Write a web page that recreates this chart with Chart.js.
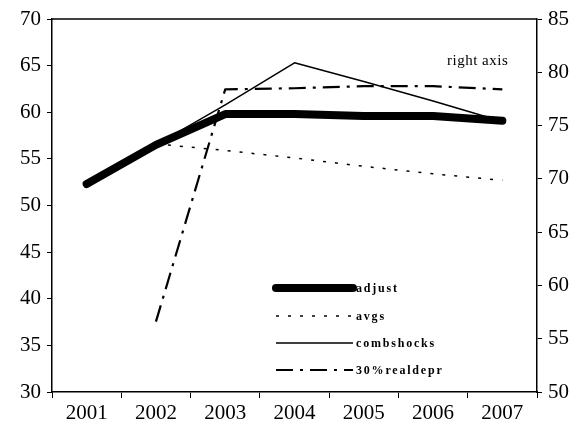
<!DOCTYPE html>
<html><head><meta charset="utf-8">
<script src="https://cdn.jsdelivr.net/npm/chart.js@4"></script>
<style>html,body{margin:0;padding:0;background:#fff}#wrap{width:582px;height:433px}</style>
</head><body><div id="wrap"><canvas id="c" width="582" height="433"></canvas></div>
<script>
const years = ['2001','2002','2003','2004','2005','2006','2007'];
const adjust = [52.3, 56.5, 59.8, 59.8, 59.6, 59.6, 59.1];
const avgs = [null, 56.6, 55.9, 55.1, 54.2, 53.4, 52.7];
const combshocks = [52.3, 56.5, 60.8, 65.3, 63.3, 61.2, 59.0];
const realdepr = [null, 56.6, 78.4, 78.5, 78.7, 78.7, 78.4];
const seriesNames = ['adjust', 'avgs', 'combshocks', '30%realdepr'];
const leftTicks = [30, 35, 40, 45, 50, 55, 60, 65, 70];
const rightTicks = [50, 55, 60, 65, 70, 75, 80, 85];
const rightAxisNote = 'right axis';

const FONT = '"Liberation Serif", "Times New Roman", serif';

const styles = [
  {borderWidth: 8, borderDash: [], cap: 'round'},
  {borderWidth: 1.5, borderDash: [3, 9], cap: 'butt'},
  {borderWidth: 1.5, borderDash: [], cap: 'butt'},
  {borderWidth: 2.2, borderDash: [17, 7, 3, 7], cap: 'butt'}
];

const overlay = {
  id: 'overlay',
  afterDatasetsDraw(chart) {
    const ctx = chart.ctx, a = chart.chartArea;
    ctx.save();
    ctx.strokeStyle = '#000'; ctx.lineWidth = 1.5;
    ctx.beginPath(); ctx.moveTo(a.left, a.top); ctx.lineTo(a.right, a.top); ctx.stroke();
    ctx.fillStyle = '#000';
    ctx.font = '15px ' + FONT;
    ctx.letterSpacing = '0.5px';
    ctx.textBaseline = 'middle'; ctx.textAlign = 'left';
    ctx.fillText(rightAxisNote, 447, 61);
    const rows = [288, 316, 343, 370];
    const x0 = 276, x1 = 353;
    ctx.font = 'bold 12px ' + FONT;
    ctx.letterSpacing = '1.8px';
    seriesNames.forEach((name, i) => {
      const s = styles[i];
      ctx.beginPath();
      ctx.lineWidth = s.borderWidth;
      ctx.lineCap = s.cap;
      ctx.setLineDash(s.borderDash);
      ctx.moveTo(x0, rows[i]); ctx.lineTo(x1, rows[i]);
      ctx.stroke();
      ctx.setLineDash([]);
      ctx.fillText(name, 356, rows[i] + 1);
    });
    ctx.restore();
  }
};

const mk = (label, data, i, axis) => ({
  label, data, yAxisID: axis,
  borderColor: '#000', backgroundColor: '#000',
  borderWidth: styles[i].borderWidth, borderDash: styles[i].borderDash,
  borderCapStyle: styles[i].cap, borderJoinStyle: 'round',
  pointRadius: 0, tension: 0, spanGaps: false, fill: false
});

new Chart(document.getElementById('c'), {
  type: 'line',
  data: {
    labels: years,
    datasets: [
      mk(seriesNames[0], adjust, 0, 'y'),
      mk(seriesNames[1], avgs, 1, 'y'),
      mk(seriesNames[2], combshocks, 2, 'y'),
      mk(seriesNames[3], realdepr, 3, 'y1')
    ]
  },
  options: {
    responsive: false, animation: false,
    layout: {padding: {top: 19, left: 0, right: 0, bottom: 0}},
    plugins: {legend: {display: false}, tooltip: {enabled: false}},
    scales: {
      x: {
        offset: true,
        grid: {display: true, drawOnChartArea: false, offset: true, color: '#000', tickLength: 6, lineWidth: 1},
        border: {display: true, color: '#000', width: 1.5},
        ticks: {color: '#000', font: {family: FONT, size: 21}, padding: 3, maxRotation: 0},
        afterFit(s) { s.height = 41; }
      },
      y: {
        position: 'left', min: 30, max: 70,
        afterBuildTicks(s) { s.ticks = leftTicks.map(v => ({value: v})); },
        grid: {display: true, drawOnChartArea: false, color: '#000', tickLength: 5, lineWidth: 1},
        border: {display: true, color: '#000', width: 1.5},
        ticks: {color: '#000', font: {family: FONT, size: 21}, padding: 6},
        afterFit(s) { s.width = 52; }
      },
      y1: {
        position: 'right', min: 50, max: 85,
        afterBuildTicks(s) { s.ticks = rightTicks.map(v => ({value: v})); },
        grid: {display: true, drawOnChartArea: false, color: '#000', tickLength: 5, lineWidth: 1},
        border: {display: true, color: '#000', width: 1.5},
        ticks: {color: '#000', font: {family: FONT, size: 21}, padding: 6},
        afterFit(s) { s.width = 45; }
      }
    }
  },
  plugins: [overlay]
});
</script>
</body></html>
